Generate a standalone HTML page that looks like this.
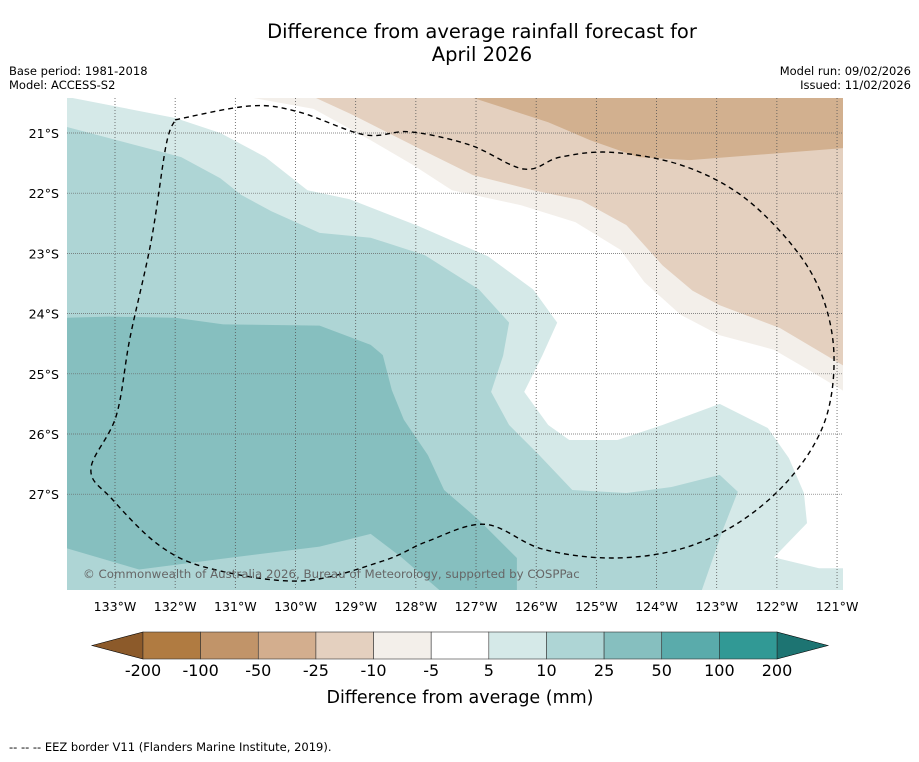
<!DOCTYPE html>
<html><head><meta charset="utf-8">
<style>
body{margin:0;background:#fff;width:919px;height:758px;overflow:hidden;font-family:"DejaVu Sans","Liberation Sans",sans-serif;}
svg text{font-family:"DejaVu Sans","Liberation Sans",sans-serif;}
</style></head>
<body>
<svg id="chart" width="919" height="758" xmlns="http://www.w3.org/2000/svg">
<text x="482" y="38" font-size="19.5" text-anchor="middle">Difference from average rainfall forecast for</text>
<text x="482" y="61" font-size="19.5" text-anchor="middle">April 2026</text>
<text x="9" y="75" font-size="11.5">Base period: 1981-2018</text>
<text x="9" y="89" font-size="11.5">Model: ACCESS-S2</text>
<text x="911" y="75" font-size="11.5" text-anchor="end">Model run: 09/02/2026</text>
<text x="911" y="89" font-size="11.5" text-anchor="end">Issued: 11/02/2026</text>
<defs><clipPath id="mapclip"><rect x="67" y="98" width="776" height="492"/></clipPath></defs>
<g id="map" clip-path="url(#mapclip)">
<rect x="67" y="98" width="776" height="492" fill="#fff"/>
<g id="fills"></g>
<g id="grid"></g>
<path id="eez" fill="none" stroke="#000" stroke-width="1.4" stroke-dasharray="5,4"/>
<text x="83" y="578" font-size="11.8" fill="#666">© Commonwealth of Australia 2026, Bureau of Meteorology, supported by COSPPac</text>
</g>
<g id="axislabels"></g>
<g id="colorbar"></g>
<text x="460" y="703" font-size="17.5" text-anchor="middle">Difference from average (mm)</text>
<text x="9" y="751" font-size="11.5">--  --  -- EEZ border V11 (Flanders Marine Institute, 2019).</text>
</svg>
<script>
const lonTicks=[133,132,131,130,129,128,127,126,125,124,123,122,121];
const latTicks=[21,22,23,24,25,26,27];
const cbLabels=["-200","-100","-50","-25","-10","-5","5","10","25","50","100","200"];
const cbColors=["#b07b41","#c19469","#d3ae8e","#e4d0bf","#f3efea","#ffffff","#d5e9e8","#aed5d5","#86bfbf","#5aabab","#319995"];
// contour polygons in [lonW, latS]
const lightTeal=[[133.8,20.4],[132,20.75],[131.25,21],[130.5,21.4],[129.8,21.95],[129.1,22.1],[127.95,22.55],[126.8,23.05],[126.05,23.6],[125.65,24.15],[125.9,24.7],[126.2,25.3],[125.8,25.85],[125.45,26.1],[124.65,26.1],[123.9,25.85],[122.95,25.5],[122.15,25.9],[121.8,26.4],[121.55,26.98],[121.5,27.48],[122.05,28.05],[121.3,28.23],[120.9,28.23],[120.9,28.6],[133.8,28.6]];
const midTeal=[[133.8,20.9],[131.9,21.4],[131.25,21.75],[130.9,22.03],[130.4,22.3],[129.6,22.66],[128.75,22.74],[127.85,23.03],[126.95,23.6],[126.45,24.15],[126.55,24.7],[126.75,25.3],[126.45,25.85],[125.95,26.35],[125.4,26.93],[124.5,26.98],[123.75,26.88],[122.95,26.68],[122.65,26.96],[122.9,27.6],[123.25,28.6],[133.8,28.6]];
const darkTeal=[[133.8,24.07],[133.1,24.05],[132,24.07],[131.2,24.18],[129.6,24.2],[128.75,24.52],[128.55,24.69],[128.4,25.27],[128.2,25.76],[127.8,26.35],[127.53,26.93],[126.95,27.43],[126.32,28.06],[126.32,28.6],[127.6,28.6],[128.25,28.04],[128.75,27.66],[129.6,27.87],[131.2,28.07],[132.6,28.25],[133.8,27.9]];
const offWhite=[[130.8,20.4],[129.7,20.6],[128.75,21.12],[128.05,21.53],[127.4,21.95],[126.25,22.2],[125.35,22.48],[124.6,22.94],[124.2,23.48],[123.6,24.02],[122.95,24.36],[122.05,24.6],[121.45,24.95],[120.9,25.28],[120.9,20.4]];
const tan=[[129.7,20.4],[129.05,20.7],[127.9,21.28],[127.05,21.7],[126.05,21.95],[125.25,22.12],[124.5,22.53],[123.9,23.2],[123.4,23.62],[122.95,23.86],[121.95,24.24],[120.9,24.86],[120.9,20.4]];
const darkTan=[[127.1,20.4],[125.8,20.82],[125.1,21.12],[124.3,21.4],[123.45,21.45],[120.9,21.25],[120.9,20.4]];
const eezPath=[[132,20.78],[130.75,20.55],[129.95,20.65],[128.85,21.03],[128.1,20.98],[127.1,21.2],[126.2,21.6],[125.6,21.4],[124.75,21.32],[123.6,21.53],[122.6,22.03],[121.75,22.86],[121.25,23.7],[121.05,24.7],[121.2,25.78],[121.75,26.7],[122.6,27.45],[123.6,27.91],[124.75,28.06],[125.9,27.91],[126.85,27.5],[127.8,27.78],[128.55,28.11],[129.9,28.44],[131.4,28.24],[132.25,27.86],[133.05,27.08],[133.4,26.58],[132.98,25.7],[132.75,24.4],[132.4,22.8],[132.15,21.2],[132,20.78]];
const fillColors={offWhite:"#f3efea",tan:"#e4d0bf",darkTan:"#d2b08f",lightTeal:"#d5e9e8",midTeal:"#aed5d5",darkTeal:"#86bfbf"};
function xOf(lon){return 115+(133-lon)*60.17;}
function yOf(lat){return 133+(lat-21)*60.2;}
const NS="http://www.w3.org/2000/svg";
function pts(a){return a.map(p=>xOf(p[0]).toFixed(1)+","+yOf(p[1]).toFixed(1)).join(" ");}
function smooth(a){
 const P=a.map(p=>[xOf(p[0]),yOf(p[1])]);
 let d="M"+P[0][0].toFixed(1)+","+P[0][1].toFixed(1);
 for(let i=0;i<P.length-1;i++){
  const p0=P[Math.max(i-1,0)],p1=P[i],p2=P[i+1],p3=P[Math.min(i+2,P.length-1)];
  const c1=[p1[0]+(p2[0]-p0[0])/6,p1[1]+(p2[1]-p0[1])/6];
  const c2=[p2[0]-(p3[0]-p1[0])/6,p2[1]-(p3[1]-p1[1])/6];
  d+=" C"+c1.map(v=>v.toFixed(1)).join(",")+" "+c2.map(v=>v.toFixed(1)).join(",")+" "+p2.map(v=>v.toFixed(1)).join(",");
 }
 return d;
}
const fills=document.getElementById("fills");
[["light-teal-5-10",lightTeal,fillColors.lightTeal],["mid-teal-10-25",midTeal,fillColors.midTeal],["dark-teal-25-50",darkTeal,fillColors.darkTeal],["offwhite-minus5-minus10",offWhite,fillColors.offWhite],["tan-minus10-minus25",tan,fillColors.tan],["dark-tan-minus25-minus50",darkTan,fillColors.darkTan]].forEach(([n,a,c])=>{
 const p=document.createElementNS(NS,"polygon");
 
 
 p.setAttribute("points",pts(a));p.setAttribute("fill",c);fills.appendChild(p);
});
const grid=document.getElementById("grid"),al=document.getElementById("axislabels");
lonTicks.forEach(l=>{
 const x=xOf(l);
 const ln=document.createElementNS(NS,"line");
 
 
 ln.setAttribute("x1",x);ln.setAttribute("x2",x);ln.setAttribute("y1",98);ln.setAttribute("y2",590);
 ln.setAttribute("stroke","#555");ln.setAttribute("stroke-width","0.8");ln.setAttribute("stroke-dasharray","1,2");grid.appendChild(ln);
 const t=document.createElementNS(NS,"text");
 
 
 t.setAttribute("x",x);t.setAttribute("y",611);t.setAttribute("font-size","12.6");t.setAttribute("text-anchor","middle");
 t.textContent=l+"°W";al.appendChild(t);
});
latTicks.forEach(l=>{
 const y=yOf(l);
 const ln=document.createElementNS(NS,"line");
 
 
 ln.setAttribute("x1",67);ln.setAttribute("x2",843);ln.setAttribute("y1",y);ln.setAttribute("y2",y);
 ln.setAttribute("stroke","#666");ln.setAttribute("stroke-width","0.7");ln.setAttribute("stroke-dasharray","1,1");grid.appendChild(ln);
 const t=document.createElementNS(NS,"text");
 
 
 t.setAttribute("x",59);t.setAttribute("y",y+5);t.setAttribute("font-size","12.6");t.setAttribute("text-anchor","end");
 t.textContent=l+"°S";al.appendChild(t);
});
document.getElementById("eez").setAttribute("d",smooth(eezPath));
const cb=document.getElementById("colorbar");
const cbX0=143,cbW=(777-143)/cbColors.length,cbY=632,cbH=27;
const lt=document.createElementNS(NS,"polygon");


lt.setAttribute("points",`92,${cbY+cbH/2} ${cbX0},${cbY} ${cbX0},${cbY+cbH}`);lt.setAttribute("fill","#8c5a2a");lt.setAttribute("stroke","#000");lt.setAttribute("stroke-width","0.6");cb.appendChild(lt);
const rt=document.createElementNS(NS,"polygon");


rt.setAttribute("points",`828,${cbY+cbH/2} 777,${cbY} 777,${cbY+cbH}`);rt.setAttribute("fill","#1d7472");rt.setAttribute("stroke","#000");rt.setAttribute("stroke-width","0.6");cb.appendChild(rt);
cbColors.forEach((c,i)=>{
 const r=document.createElementNS(NS,"rect");
 
 
 r.setAttribute("x",cbX0+i*cbW);r.setAttribute("y",cbY);r.setAttribute("width",cbW);r.setAttribute("height",cbH);
 r.setAttribute("fill",c);r.setAttribute("stroke","#333");r.setAttribute("stroke-width","0.6");cb.appendChild(r);
});
cbLabels.forEach((s,i)=>{
 const t=document.createElementNS(NS,"text");
 
 
 t.setAttribute("x",cbX0+i*cbW);t.setAttribute("y",676);t.setAttribute("font-size","16");t.setAttribute("text-anchor","middle");
 t.textContent=s;cb.appendChild(t);
});
</script>
</body></html>
